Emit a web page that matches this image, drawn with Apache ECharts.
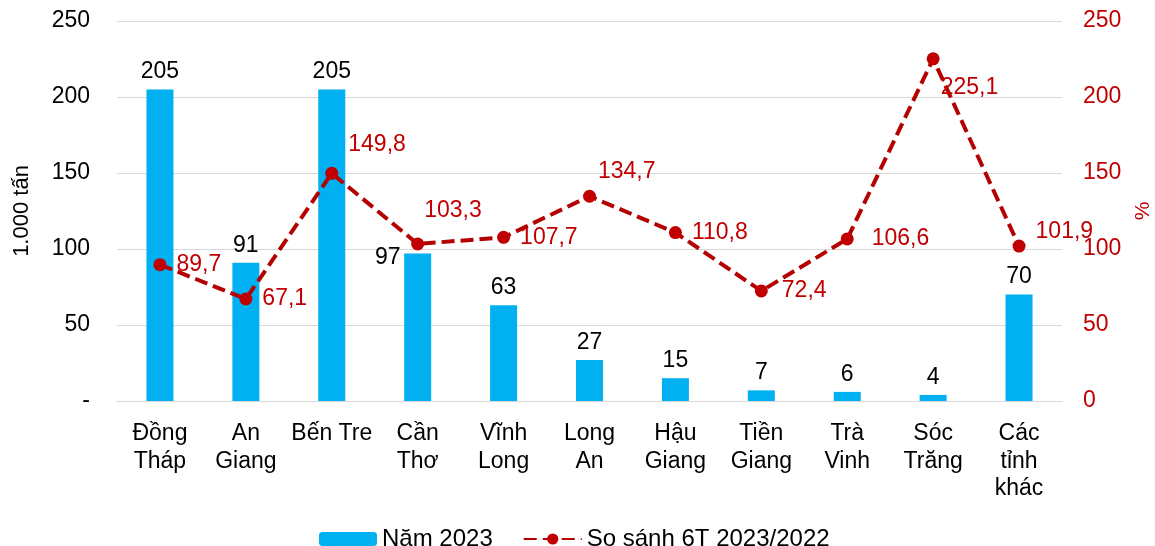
<!DOCTYPE html>
<html>
<head>
<meta charset="utf-8">
<script src="https://cdn.jsdelivr.net/npm/echarts@6/dist/echarts.min.js"></script>
<style>
html, body { margin: 0; padding: 0; background: #fff; }
#main { width: 1155px; height: 546px; }
</style>
</head>
<body>
<div id="main"></div>
<script>
var provinces = ['Đồng\nTháp', 'An\nGiang', 'Bến Tre', 'Cần\nThơ', 'Vĩnh\nLong', 'Long\nAn', 'Hậu\nGiang', 'Tiền\nGiang', 'Trà\nVinh', 'Sóc\nTrăng', 'Các\ntỉnh\nkhác'];
var output2023 = [205, 91, 205, 97, 63, 27, 15, 7, 6, 4, 70];
var compare = [89.7, 67.1, 149.8, 103.3, 107.7, 134.7, 110.8, 72.4, 106.6, 225.1, 101.9];

// label nudges like the hand-placed ones in the original
var lineLabelShift = [[0, 0], [0, 0], [0, -29], [-10, -33], [0, 0], [-8, -25], [0, 0], [4, 0], [8, 0], [-9, 29], [0, -14]];

var myChart = echarts.init(document.getElementById('main'));
var font = 'Liberation Sans, Arial, sans-serif';

var option = {
    animation: false,
    textStyle: { fontFamily: font },
    grid: { left: 117, right: 93, top: 21, bottom: 145, outerBoundsMode: 'none' },
    legend: {
        top: 522,
        left: 314,
        itemWidth: 58,
        itemHeight: 14,
        itemGap: 30,
        textStyle: { fontSize: 24, color: '#000', fontFamily: font },
        data: ['Năm 2023', 'So sánh 6T 2023/2022']
    },
    xAxis: {
        type: 'category',
        data: provinces,
        axisTick: { show: false },
        axisLine: { lineStyle: { color: '#d9d9d9' } },
        axisLabel: { interval: 0, fontSize: 23, color: '#000', lineHeight: 27.5, margin: 19, verticalAlign: 'top' }
    },
    yAxis: [{
        type: 'value',
        min: 0, max: 250, interval: 50,
        name: '1.000 tấn',
        nameLocation: 'middle',
        nameGap: 84,
        nameTextStyle: { fontSize: 22, color: '#000' },
        axisLabel: {
            fontSize: 23, color: '#000', margin: 27,
            formatter: function (v) { return v === 0 ? '-' : v; }
        },
        splitLine: { lineStyle: { color: '#d9d9d9' } }
    }, {
        type: 'value',
        min: 0, max: 250, interval: 50,
        name: '%',
        nameLocation: 'middle',
        nameGap: 70,
        nameRotate: 90,
        nameTextStyle: { fontSize: 21, color: '#c00000' },
        axisLabel: { fontSize: 23, color: '#c00000', margin: 21 },
        splitLine: { show: false }
    }],
    series: [{
        name: 'Năm 2023',
        type: 'bar',
        data: output2023.map(function (v, i) {
            var d = { value: v };
            if (i === 3) d.label = { offset: [-30, 22] };
            return d;
        }),
        barWidth: 27,
        itemStyle: { color: '#00b0f0' },
        label: { show: true, position: 'top', fontSize: 23, color: '#000', distance: 6 }
    }, {
        name: 'So sánh 6T 2023/2022',
        type: 'line',
        yAxisIndex: 1,
        data: compare.map(function (v, i) {
            return { value: v, label: { offset: lineLabelShift[i] } };
        }),
        symbol: 'circle',
        symbolSize: 13,
        itemStyle: { color: '#c00000' },
        lineStyle: { color: '#b40000', width: 4, type: [13, 6] },
        label: {
            show: true, position: 'right', distance: 10, fontSize: 23, color: '#c00000',
            formatter: function (p) { return String(p.value).replace('.', ','); }
        },
        z: 5
    }]
};

myChart.setOption(option);
</script>
</body>
</html>
